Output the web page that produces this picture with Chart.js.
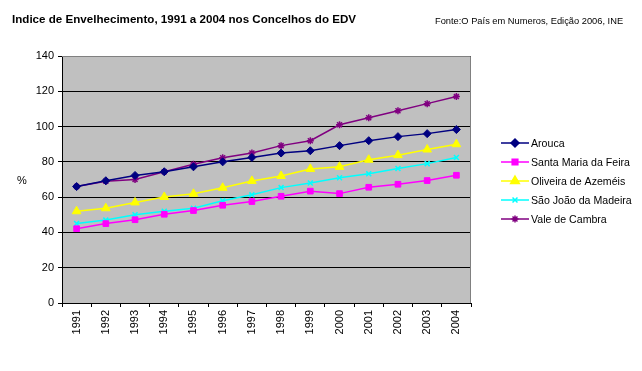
<!DOCTYPE html>
<html>
<head>
<meta charset="utf-8">
<script src="https://cdn.jsdelivr.net/npm/chart.js@4.4.1/dist/chart.umd.min.js"></script>
<style>
  html, body { margin: 0; padding: 0; background: #fff; }
  #wrap { width: 642px; height: 371px; }
</style>
</head>
<body>
<div id="wrap"><canvas id="chart" width="642" height="371"></canvas></div>
<script>
// dados
const anos = ['1991','1992','1993','1994','1995','1996','1997','1998','1999','2000','2001','2002','2003','2004'];
const arouca = [66, 69.3, 72.3, 74.4, 77.2, 80, 82.5, 85, 86.3, 89.2, 92, 94.3, 96, 98.3];
const santaMaria = [42.1, 45, 47.2, 50.3, 52.4, 55.4, 57.5, 60.5, 63.4, 62, 65.6, 67.3, 69.4, 72.4];
const oliveira = [52, 53.7, 57, 60.1, 61.9, 65.3, 69.2, 72, 76, 77.2, 81.2, 83.8, 87, 90];
const saoJoao = [45.1, 47, 50, 52, 53.7, 58, 61.3, 65.4, 68, 71, 73.2, 76.2, 79, 82.5];
const valeCambra = [66, 69, 70, 74.4, 78.6, 82.3, 85, 89.2, 92, 101, 105, 109, 113, 117];
const yTicks = [0, 20, 40, 60, 80, 100, 120, 140];

function serie(label, data, color, style, radius) {
    return {
        label: label,
        data: data,
        borderColor: color,
        backgroundColor: color,
        borderWidth: 1.5,
        pointStyle: style,
        pointRadius: radius,
        pointBorderWidth: style === 'crossRot' || style === 'star' ? 1.5 : 1,
        tension: 0
    };
}

const fundo = {
    id: 'fundo',
    beforeDraw(chart) {
        const { ctx, chartArea: a } = chart;
        ctx.save();
        ctx.fillStyle = '#C0C0C0';
        ctx.fillRect(a.left, a.top, a.right - a.left, a.bottom - a.top);
        ctx.restore();
    },
    afterDraw(chart) {
        const { ctx, chartArea: a } = chart;
        ctx.save();
        // moldura da área
        ctx.strokeStyle = '#808080';
        ctx.lineWidth = 1;
        ctx.beginPath();
        ctx.moveTo(a.left, a.top + 0.5);
        ctx.lineTo(a.right - 0.5, a.top + 0.5);
        ctx.lineTo(a.right - 0.5, a.bottom);
        ctx.stroke();
        // títulos
        ctx.fillStyle = '#000';
        ctx.textBaseline = 'alphabetic';
        ctx.font = 'bold 11.6px Arial, "Liberation Sans", sans-serif';
        ctx.fillText('Indice de Envelhecimento, 1991 a 2004 nos Concelhos do EDV', 12, 23);
        ctx.font = '9.3px Arial, "Liberation Sans", sans-serif';
        ctx.fillText('Fonte:O País em Numeros, Edição 2006, INE', 435, 24);
        ctx.font = '11px Arial, "Liberation Sans", sans-serif';
        ctx.fillText('%', 17, 184);
        // legenda
        const ds = chart.data.datasets;
        ctx.font = '10.6px Arial, "Liberation Sans", sans-serif';
        ds.forEach((d, i) => {
            const y = 143 + i * 19;
            ctx.strokeStyle = d.borderColor;
            ctx.lineWidth = 1.5;
            ctx.beginPath();
            ctx.moveTo(501, y);
            ctx.lineTo(529, y);
            ctx.stroke();
            Chart.helpers.drawPoint(ctx, {
                pointStyle: d.pointStyle,
                radius: d.pointRadius,
                borderWidth: d.pointBorderWidth,
                rotation: 0
            }, 515, y);
            ctx.fillStyle = d.borderColor;
            ctx.fill();
            ctx.fillStyle = '#000';
            ctx.textBaseline = 'middle';
            ctx.fillText(d.label, 531, y + 1);
        });
        ctx.restore();
    }
};

const ctx = document.getElementById('chart').getContext('2d');
new Chart(ctx, {
    type: 'line',
    data: {
        labels: anos,
        datasets: [
            serie('Arouca', arouca, '#000080', 'rectRot', 4),
            serie('Santa Maria da Feira', santaMaria, '#FF00FF', 'rect', 4),
            serie('Oliveira de Azeméis', oliveira, '#FFFF00', 'triangle', 5),
            serie('São João da Madeira', saoJoao, '#00FFFF', 'crossRot', 3.5),
            serie('Vale de Cambra', valeCambra, '#800080', 'star', 3.5)
        ]
    },
    plugins: [fundo],
    options: {
        responsive: false,
        animation: false,
        layout: { padding: { top: 56, right: 171, left: 0, bottom: 0 } },
        plugins: {
            legend: { display: false },
            title: { display: false },
            tooltip: { enabled: false }
        },
        scales: {
            x: {
                offset: true,
                grid: {
                    offset: true,
                    drawOnChartArea: false,
                    color: '#000',
                    tickLength: 4,
                    tickColor: '#000'
                },
                border: { color: '#000', width: 1 },
                ticks: {
                    color: '#000',
                    font: { family: 'Arial, "Liberation Sans", sans-serif', size: 11 },
                    minRotation: 90,
                    maxRotation: 90,
                    autoSkip: false,
                    padding: 3
                },
                afterFit(scale) { scale.height = 68; }
            },
            y: {
                min: 0,
                max: 140,
                afterBuildTicks(scale) {
                    scale.ticks = yTicks.map(v => ({ value: v }));
                },
                grid: {
                    color: '#000',
                    lineWidth: 1,
                    tickLength: 4,
                    tickColor: '#000'
                },
                border: { color: '#000', width: 1 },
                ticks: {
                    color: '#000',
                    font: { family: 'Arial, "Liberation Sans", sans-serif', size: 11 },
                    padding: 4
                },
                afterFit(scale) { scale.width = 62; }
            }
        }
    }
});
</script>
</body>
</html>
